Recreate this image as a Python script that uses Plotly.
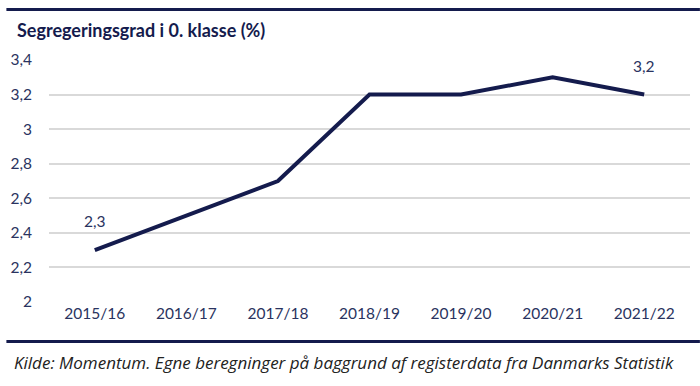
import plotly.graph_objects as go

years = ["2015/16", "2016/17", "2017/18", "2018/19", "2019/20", "2020/21", "2021/22"]
values = [2.3, 2.5, 2.7, 3.2, 3.2, 3.3, 3.2]
labelled = [0, 6]
y_ticks = [2, 2.2, 2.4, 2.6, 2.8, 3, 3.2, 3.4]

navy = "#141b4d"
tick_col = "#2a3360"
font = "Lato, 'Open Sans', sans-serif"

fig = go.Figure()
fig.add_trace(go.Scatter(x=years, y=values, mode="lines",
                         line=dict(color=navy, width=4), hoverinfo="skip"))

for i in labelled:
    fig.add_annotation(x=years[i], y=values[i], text=f"{values[i]:.1f}".replace(".", ","),
                       showarrow=False, yshift=29, font=dict(size=15.5, color=tick_col, family=font))

W, H = 700, 386
l, r, t, b = 43, 10, 60, 84
pw, ph = W - l - r, H - t - b
def px(xp): return (xp - l) / pw
def py(yp): return (H - b - yp) / ph

for yp in (9.5, 341.5):
    fig.add_shape(type="line", xref="paper", yref="paper", x0=px(0), x1=px(700), y0=py(yp), y1=py(yp),
                  line=dict(color=navy, width=3))

fig.add_annotation(xref="paper", yref="paper", x=px(9), y=py(30), xanchor="left", yanchor="middle",
                   text="<b>Segregeringsgrad i 0. klasse (%)</b>", showarrow=False,
                   font=dict(size=18, color=navy, family=font))
fig.add_annotation(xref="paper", yref="paper", x=px(6), y=py(362), xanchor="left", yanchor="middle",
                   text="<i>Kilde: Momentum. Egne beregninger på baggrund af registerdata fra Danmarks Statistik</i>",
                   showarrow=False, font=dict(size=17, color="#222222", family="'Open Sans', sans-serif"))

fig.update_layout(
    width=W, height=H, margin=dict(l=l, r=r, t=t, b=b),
    paper_bgcolor="white", plot_bgcolor="white", separators=",.",
    showlegend=False,
    font=dict(family=font, color=tick_col, size=15.5),
    xaxis=dict(type="category", range=[-0.5, 6.5], showgrid=False, zeroline=False, showline=False,
               ticks="", tickfont=dict(size=15.5), fixedrange=True),
    yaxis=dict(range=[2, 3.4], tickvals=y_ticks, showgrid=True, gridcolor="#d9d9d9", gridwidth=1.5,
               zeroline=False, showline=False, ticks="", ticklabelstandoff=16,
               tickfont=dict(size=15.5), fixedrange=True),
)
fig.write_html("out.html", config={"displayModeBar": False},
               post_script="document.body.style.margin='0';document.body.style.padding='0';")
